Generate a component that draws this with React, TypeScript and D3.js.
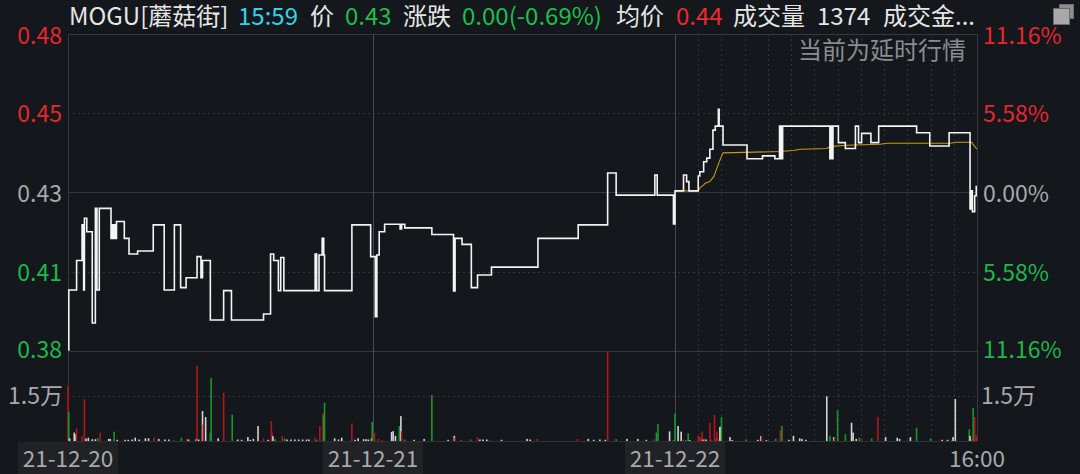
import React from 'react';
import * as d3 from 'd3';

const W = 1080;
const H = 474;
const FONT = '"Noto Sans CJK SC", "Noto Sans", sans-serif';

const baseClose = 0.43;
const pctRange = 0.1116;
const leftTicks = ['0.48', '0.45', '0.43', '0.41', '0.38'];
const rightTicks = ['11.16%', '5.58%', '0.00%', '5.58%', '11.16%'];
const tickPct = [0.1116, 0.0558, 0, -0.0558, -0.1116];
const dateLabels = ['21-12-20', '21-12-21', '21-12-22'];
const dateStartT = [0, 390, 780];
const endLabel = '16:00';
const volTickLabel = '1.5万';
const volTick = 15000;
const volMax = 30000;

// price step series: minute index over three sessions (390 each) and last price
const priceT = [
  0, 1, 11, 18, 20, 21, 24, 31, 35, 37, 40, 55, 57, 58, 60, 61, 62, 72, 78, 89, 109, 123, 136, 144, 151, 165, 170, 172,
  182, 199, 209, 250, 259, 263, 269, 272, 276, 316, 318, 321, 325, 327, 328, 363, 387,
  393, 395, 398, 405, 425, 427, 431, 466, 494, 496, 505, 517, 525, 543, 603, 655, 693, 704, 754, 757, 778,
  780, 791, 795, 798, 810, 812, 817, 821, 825, 829, 832, 836, 837, 842, 873, 893, 909, 915, 916, 917, 918, 919,
  980, 981, 982, 984, 991, 1000, 1013, 1017, 1021, 1033, 1043, 1092, 1109, 1134, 1161, 1163, 1164, 1167, 1169, 1170,
];
const priceV = [
  0.3823, 0.4005, 0.4094, 0.4202, 0.4005, 0.4222, 0.4181, 0.3905, 0.4252, 0.4005, 0.4252, 0.4161, 0.4202, 0.4161,
  0.4202, 0.4161, 0.4212, 0.4161, 0.4114, 0.4123, 0.4202, 0.4005, 0.4202, 0.4012, 0.4042, 0.4106, 0.4042, 0.4094,
  0.3914, 0.4003, 0.3914, 0.3932, 0.4114, 0.4094, 0.4003, 0.4103, 0.4003, 0.4114, 0.4003, 0.4111, 0.4161, 0.4111,
  0.4003, 0.4202, 0.4106,
  0.3924, 0.4111, 0.4181, 0.4204, 0.419, 0.4204, 0.4193, 0.4173, 0.4002, 0.4161, 0.4143, 0.4012, 0.405, 0.4074,
  0.4161, 0.4202, 0.4359, 0.4292, 0.4353, 0.4292, 0.4205,
  0.4305, 0.4353, 0.4333, 0.4305, 0.435, 0.4363, 0.4393, 0.4404, 0.4431, 0.4489, 0.4501, 0.4552, 0.4501, 0.4444,
  0.4402, 0.4411, 0.4402, 0.4501, 0.4402, 0.4501, 0.4402, 0.4501,
  0.4402, 0.4501, 0.4402, 0.4501, 0.4451, 0.4433, 0.4501, 0.4451, 0.4479, 0.4451, 0.4501, 0.4481, 0.4441, 0.4481,
  0.425, 0.4305, 0.4242, 0.429, 0.4318, 0.4318,
];

// average price (current session only)
const avgT = [780, 810, 812, 817, 819, 825, 830, 834, 838, 842, 916, 933, 942, 976, 980, 1002, 1045, 1053, 1135, 1144, 1163, 1170];
const avgV = [
  0.4305, 0.4305, 0.4313, 0.4323, 0.4328, 0.4333, 0.4348, 0.4373, 0.4398, 0.442, 0.4424, 0.4427, 0.4431, 0.4433,
  0.4439, 0.4443, 0.4446, 0.4449, 0.4449, 0.4452, 0.4452, 0.4431,
];

// volume: minute index, shares, direction (1 up/red, -1 down/green, 0 flat/white)
const volT = [
  0, 1, 2, 8, 9, 11, 18, 21, 23, 26, 31, 35, 38, 41, 52, 54, 59, 63, 73, 77, 82, 86, 91, 99, 103, 110, 116, 124, 129,
  135, 145, 152, 154, 164, 165, 167, 172, 173, 176, 182, 183, 192, 199, 210, 217, 222, 230, 233, 237, 243, 250, 256,
  260, 261, 262, 265, 274, 277, 280, 285, 290, 295, 300, 305, 308, 316, 318, 322, 326, 327, 328, 341, 346, 350, 363,
  367, 371, 378, 381, 384, 388, 389,
  392, 397, 402, 414, 416, 419, 424, 426, 427, 431, 443, 456, 466, 487, 495, 496, 504, 516, 525, 528, 532, 537, 541,
  556, 589, 593, 602, 654, 668, 675, 683, 690, 693, 704, 718, 732, 743, 753, 756, 758, 773, 778,
  780, 784, 788, 791, 794, 797, 799, 810, 812, 813, 815, 816, 818, 820, 825, 827, 831, 832, 834, 835, 838, 839, 840,
  851, 854, 872, 887, 891, 892, 898, 910, 916, 918, 927, 933, 941, 944, 949, 976, 980, 985, 986, 990, 1000, 1008,
  1010, 1014, 1018, 1021, 1034, 1042, 1052, 1067, 1070, 1084, 1092, 1110, 1125, 1132, 1137, 1139, 1142, 1160, 1161,
  1163, 1165, 1167, 1169,
];
const volV = [
  18300, 9700, 900, 2800, 2200, 4200, 1700, 13900, 800, 1100, 600, 600, 900, 2700, 700, 700, 3100, 400, 400, 400, 500,
  1100, 500, 900, 900, 1100, 700, 500, 500, 300, 1100, 800, 500, 700, 25100, 500, 10000, 5500, 8000, 2800, 21000, 900,
  16100, 8800, 500, 400, 1300, 400, 700, 5000, 900, 400, 6700, 2800, 1600, 600, 1700, 900, 500, 500, 500, 500, 500,
  500, 500, 1100, 400, 5000, 9200, 8600, 12700, 900, 500, 1100, 5900, 400, 900, 600, 600, 500, 900, 6400,
  2700, 700, 300, 3000, 3300, 1700, 5000, 8300, 3300, 500, 400, 700, 15300, 400, 1700, 1100, 300, 500, 1300, 500, 500,
  500, 300, 400, 700, 500, 700, 700, 700, 400, 500, 400, 29700, 600, 700, 700, 400, 600, 2800, 5600, 3200, 300,
  9100, 5000, 3100, 500, 300, 2600, 300, 1700, 1300, 1300, 3100, 500, 900, 500, 6100, 500, 8700, 800, 3100, 900, 4700,
  4700, 8000, 1300, 300, 500, 400, 1700, 1700, 300, 700, 3600, 5000, 400, 1700, 900, 700, 400, 14900, 1700, 1300,
  1100, 10200, 2300, 6100, 2800, 700, 1100, 900, 900, 8000, 1300, 1100, 700, 1300, 4400, 900, 400, 400, 400, 1300,
  14000, 3900, 1700, 700, 11000, 8000, 1900,
];
const volDir = [
  1, -1, 0, 0, 0, 1, 1, 1, 0, 0, 0, 0, -1, 1, 0, 0, -1, 0, 0, 0, 0, 0, 0, 0, 0, 1, 0, 0, 0, 1, -1, 1, 0, 0, 1, 0, 0, 1,
  0, -1, -1, 0, 1, -1, 0, 0, 0, 0, 0, 0, 1, 0, 1, 1, 0, -1, 1, -1, 0, 0, 0, 0, 0, 0, 0, 1, -1, 1, 1, -1, -1, 0, 0, 0, 1,
  0, 0, 0, 0, 0, 0, -1,
  1, 1, 1, 0, 0, 0, -1, 0, 1, -1, 0, 0, -1, 0, 0, 1, -1, -1, 1, 0, 0, 0, 1, 0, 0, 0, 1, 1, 0, 0, 0, 0, 1, -1, 0, 0, 0,
  1, -1, -1, 0, -1,
  -1, 0, 0, 1, -1, -1, 0, 1, 1, 1, 1, 0, 1, 0, 1, 1, 1, 1, 1, 1, 0, 0, -1, 0, 0, -1, 0, 0, 1, 0, -1, 1, -1, 0, 0, 0, 0,
  0, 0, -1, 0, 1, -1, -1, 0, 0, 0, -1, 1, -1, 1, 0, 0, 0, 0, -1, -1, 0, 0, 1, 0, 0, -1, 0, 1, -1, 1, 1,
];

const headerParts = [
  { text: 'MOGU[蘑菇街]', x: 69, color: '#e6e6e6' },
  { text: '15:59', x: 238, color: '#33d3e6' },
  { text: '价', x: 310, color: '#e6e6e6' },
  { text: '0.43', x: 345, color: '#1cbf4b' },
  { text: '涨跌', x: 403, color: '#e6e6e6' },
  { text: '0.00(-0.69%)', x: 462, color: '#1cbf4b' },
  { text: '均价', x: 616, color: '#e6e6e6' },
  { text: '0.44', x: 676, color: '#ee2a30' },
  { text: '成交量', x: 733, color: '#e6e6e6' },
  { text: '1374', x: 817, color: '#e6e6e6' },
  { text: '成交金...', x: 883, color: '#e6e6e6' },
];

const RED = '#e8262e';
const GREEN = '#1db84b';
const GRAY = '#a7a9ac';
const BG = '#14171b';

export default function App() {
  const x = d3.scaleLinear().domain([0, 390, 780, 1170]).range([68, 373, 675, 977]);
  const y = d3
    .scaleLinear()
    .domain([baseClose * (1 - pctRange), baseClose * (1 + pctRange)])
    .range([351, 34]);
  const yv = d3.scaleLinear().domain([0, volMax]).range([441, 351]);

  const priceLine = d3
    .line<number>()
    .x((_, i) => x(priceT[i]))
    .y((d) => y(d))
    .curve(d3.curveStepAfter);
  const avgLine = d3
    .line<number>()
    .x((_, i) => x(avgT[i]))
    .y((d) => y(d));

  const left = x(0);
  const right = x(1170);
  const dayDividers = [x(390), x(780)];
  const halfHours = d3.range(1, 13).map((k) => x(780 + k * 30));
  const tickYs = tickPct.map((p) => y(baseClose * (1 + p)));
  const tickColor = (p: number) => (p > 0 ? RED : p < 0 ? GREEN : GRAY);
  const volColor = (d: number) => (d > 0 ? '#b0161c' : d < 0 ? '#1a962b' : '#d4d4d4');

  return (
    <svg
      width={W}
      height={H}
      style={{ position: 'absolute', left: 0, top: 0, background: BG, fontFamily: FONT }}
    >
      <rect x={0} y={0} width={W} height={H} fill={BG} />

      {/* horizontal grid */}
      {tickYs.map((ty, i) => {
        const p = tickPct[i];
        const solid = p === 0 || Math.abs(p) === pctRange;
        return (
          <line
            key={'h' + i}
            x1={left}
            x2={right}
            y1={Math.round(ty) + 0.5}
            y2={Math.round(ty) + 0.5}
            stroke={solid ? '#35383d' : '#30333a'}
            strokeWidth={1}
            strokeDasharray={solid ? undefined : '2,3'}
          />
        );
      })}
      <line
        x1={left}
        x2={right}
        y1={Math.round(yv(volTick)) + 0.5}
        y2={Math.round(yv(volTick)) + 0.5}
        stroke="#30333a"
        strokeDasharray="2,3"
      />
      <line x1={left} x2={right} y1={Math.round(yv(0)) + 0.5} y2={Math.round(yv(0)) + 0.5} stroke="#2e3136" />

      {/* vertical grid */}
      {halfHours.map((hx, i) => (
        <line
          key={'v' + i}
          x1={Math.round(hx) + 0.5}
          x2={Math.round(hx) + 0.5}
          y1={34}
          y2={yv(0)}
          stroke="#30333a"
          strokeDasharray="2,3"
        />
      ))}
      {[left, right].map((bx, i) => (
        <line key={'b' + i} x1={bx + 0.5} x2={bx + 0.5} y1={34} y2={yv(0)} stroke="#35383d" />
      ))}
      {dayDividers.map((dx, i) => (
        <line key={'d' + i} x1={dx + 0.5} x2={dx + 0.5} y1={34} y2={yv(0)} stroke="#46494e" />
      ))}

      {/* volume bars */}
      {volT.map((t, i) => (
        <rect
          key={'vb' + i}
          x={x(t) - 0.8}
          y={yv(volV[i])}
          width={1.6}
          height={yv(0) - yv(volV[i])}
          fill={volColor(volDir[i])}
        />
      ))}

      {/* average price */}
      <path d={avgLine(avgV) || ''} fill="none" stroke="#c79a12" strokeWidth={1.1} />
      {/* price */}
      <path d={priceLine(priceV) || ''} fill="none" stroke="#f4f4f4" strokeWidth={1.6} />

      {/* left axis */}
      {leftTicks.map((lbl, i) => (
        <text
          key={'lt' + i}
          x={62}
          y={Math.min(Math.max(tickYs[i] + 9, 44), 358)}
          textAnchor="end"
          fontSize={23}
          fill={tickColor(tickPct[i])}
        >
          {lbl}
        </text>
      ))}
      <text x={63} y={yv(volTick) + 8} textAnchor="end" fontSize={23} fill={GRAY}>
        {volTickLabel}
      </text>

      {/* right axis */}
      {rightTicks.map((lbl, i) => (
        <text
          key={'rt' + i}
          x={983}
          y={Math.min(Math.max(tickYs[i] + 9, 44), 358)}
          textAnchor="start"
          fontSize={23}
          fill={tickColor(tickPct[i])}
        >
          {lbl}
        </text>
      ))}
      <text x={981} y={yv(volTick) + 8} textAnchor="start" fontSize={23} fill={GRAY}>
        {volTickLabel}
      </text>

      {/* date labels */}
      {dateLabels.map((lbl, i) => {
        const cx = x(dateStartT[i]);
        return (
          <g key={'dl' + i}>
            <rect x={cx - 50} y={442} width={100} height={32} fill="#202226" />
            <text x={cx} y={467} textAnchor="middle" fontSize={22.5} fill={GRAY}>
              {lbl}
            </text>
          </g>
        );
      })}
      <text x={right} y={467} textAnchor="middle" fontSize={22.5} fill={GRAY}>
        {endLabel}
      </text>

      {/* header */}
      {headerParts.map((p, i) => (
        <text key={'hp' + i} x={p.x} y={25} fontSize={24} fill={p.color}>
          {p.text}
        </text>
      ))}
      <text x={966} y={59} textAnchor="end" fontSize={24} fill="#8a8c90">
        当前为延时行情
      </text>

      {/* window icon */}
      <rect x={1059.5} y={4.5} width={14} height={14} fill="#8e8e8e" stroke="#6e6e6e" />
      <rect x={1053.5} y={8.5} width={16} height={16} fill="#a9a9a9" stroke="#6a6a6a" />
    </svg>
  );
}
